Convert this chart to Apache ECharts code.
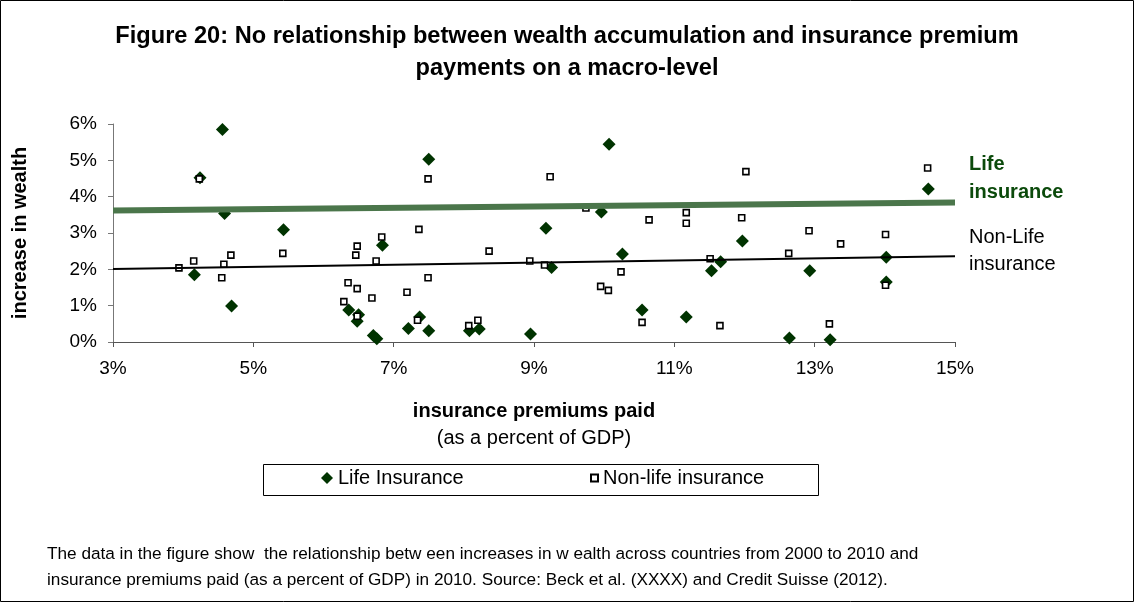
<!DOCTYPE html>
<html>
<head>
<meta charset="utf-8">
<script src="https://cdn.jsdelivr.net/npm/echarts@6.0.0/dist/echarts.min.js"></script>
<style>
  html, body { margin: 0; padding: 0; background: #fff; }
  #chart { width: 1134px; height: 602px; }
</style>
</head>
<body>
<div id="chart"></div>
<script>
// premiums paid (% of GDP) and increase in wealth (%)
const lifePremium = [4.56, 4.24, 4.59, 5.43, 6.84, 4.16, 4.69, 6.36, 6.50, 6.48, 6.71, 6.76,
  7.21, 7.50, 10.07, 9.96, 9.17, 10.26, 9.25, 7.37, 7.50, 8.08, 8.22, 8.95, 10.54, 11.17,
  14.62, 11.97, 11.66, 11.53, 12.93, 14.02, 14.02, 12.64, 13.22]
const lifeWealth = [5.85, 4.52, 3.54, 3.09, 2.66, 1.85, 0.99, 0.88, 0.75, 0.57, 0.18, 0.09,
  0.37, 5.03, 5.44, 3.58, 3.13, 2.42, 2.05, 0.69, 0.31, 0.31, 0.36, 0.22, 0.88, 0.69,
  4.21, 2.78, 2.21, 1.96, 1.96, 2.33, 1.65, 0.11, 0.06]

const nonLifePremium = [4.23, 3.94, 4.15, 4.58, 4.68, 4.55, 5.42, 6.48, 6.46, 6.83, 6.75, 6.35,
  6.48, 6.29, 6.48, 6.69, 7.19, 7.36, 7.34, 7.49, 9.23, 9.74, 10.64, 11.17, 11.17, 8.36,
  8.94, 9.15, 10.24, 7.49, 9.95, 10.06, 8.07, 8.20, 10.54, 14.61, 12.02, 11.96, 12.92,
  13.37, 14.01, 12.63, 11.51, 14.01, 11.65, 13.21]
const nonLifeWealth = [4.49, 2.04, 2.23, 2.14, 2.39, 1.77, 2.44, 2.64, 2.39, 2.89, 2.23, 1.63,
  1.47, 1.11, 0.71, 1.21, 1.37, 3.10, 0.60, 4.49, 4.55, 3.69, 3.36, 3.56, 3.27, 2.50,
  2.23, 2.12, 1.93, 1.77, 1.53, 1.42, 0.45, 0.60, 0.54, 4.79, 4.69, 3.42, 3.06,
  2.70, 2.96, 2.44, 2.29, 1.56, 0.45, 0.50]

// trend lines: [start, end] over the x range
const trendX = [3, 15]
const lifeTrend = [3.62, 3.84]
const nonLifeTrend = [2.01, 2.36]

const FONT = "'Liberation Sans', Arial, sans-serif"
const pairs = (xs, ys) => xs.map((x, i) => [x, ys[i]])

const chart = echarts.init(document.getElementById('chart'))

const option = {
  backgroundColor: '#fff',
  animation: false,
  textStyle: { fontFamily: FONT, color: '#000' },
  title: {
    text: 'Figure 20: No relationship between wealth accumulation and insurance premium\npayments on a macro-level',
    left: 'center',
    top: 15,
    textStyle: { fontFamily: FONT, fontSize: 23.6, fontWeight: 'bold', lineHeight: 32, color: '#000' }
  },
  grid: { left: 113, right: 179, top: 124, bottom: 260, containLabel: false, outerBoundsMode: 'none' },
  xAxis: {
    type: 'value',
    min: 3,
    max: 15,
    interval: 2,
    splitLine: { show: false },
    axisLine: { lineStyle: { color: '#555', width: 1 } },
    axisTick: { show: true, length: 5, lineStyle: { color: '#555' } },
    axisLabel: { formatter: '{value}%', fontSize: 19, color: '#000', margin: 17, fontFamily: FONT },
    name: '{b|insurance premiums paid}\n{n|(as a percent of GDP)}',
    nameLocation: 'middle',
    nameGap: 56,
    nameTextStyle: {
      rich: {
        b: { fontFamily: FONT, fontSize: 20, fontWeight: 'bold', lineHeight: 27, color: '#000' },
        n: { fontFamily: FONT, fontSize: 20, lineHeight: 27, color: '#000' }
      }
    }
  },
  yAxis: {
    type: 'value',
    min: 0,
    max: 6,
    interval: 1,
    splitLine: { show: false },
    axisLine: { show: true, lineStyle: { color: '#777', width: 1 } },
    axisTick: { show: true, length: 5, lineStyle: { color: '#777' } },
    axisLabel: { formatter: '{value}%', fontSize: 19, color: '#000', margin: 16, fontFamily: FONT },
    name: 'increase in wealth',
    nameLocation: 'middle',
    nameGap: 83,
    nameTextStyle: { fontFamily: FONT, fontSize: 20, fontWeight: 'bold', color: '#000' }
  },
  legend: [
    {
      data: ['Life Insurance'],
      left: 321,
      top: 468,
      padding: 0,
      itemWidth: 12,
      itemHeight: 12,
      selectedMode: false,
      textStyle: { fontFamily: FONT, fontSize: 20, color: '#000' }
    },
    {
      data: ['Non-life insurance'],
      left: 590,
      top: 468,
      padding: 0,
      itemWidth: 7,
      itemHeight: 7,
      selectedMode: false,
      textStyle: { fontFamily: FONT, fontSize: 20, color: '#000' }
    }
  ],
  graphic: [
    // outer frame
    { type: 'rect', shape: { x: 0.5, y: 0.5, width: 1133, height: 601 },
      style: { fill: 'none', stroke: '#000', lineWidth: 1 }, silent: true },
    // legend box
    { type: 'rect', shape: { x: 263.5, y: 464.5, width: 555, height: 31 },
      style: { fill: 'none', stroke: '#000', lineWidth: 1 }, silent: true, z: -1 },
    { type: 'text', x: 969, y: 150,
      style: { text: 'Life\ninsurance', font: 'bold 20px ' + FONT, fill: '#0b4a0b', lineHeight: 28 } },
    { type: 'text', x: 969, y: 224,
      style: { text: 'Non-Life\ninsurance', font: '20px ' + FONT, fill: '#000', lineHeight: 27 } },
    { type: 'text', x: 47, y: 541,
      style: {
        text: 'The data in the figure show  the relationship betw een increases in w ealth across countries from 2000 to 2010 and\ninsurance premiums paid (as a percent of GDP) in 2010. Source: Beck et al. (XXXX) and Credit Suisse (2012).',
        font: '17.2px ' + FONT, fill: '#000', lineHeight: 26
      } }
  ],
  series: [
    {
      name: 'Life Insurance',
      type: 'scatter',
      symbol: 'diamond',
      symbolSize: 13,
      itemStyle: { color: '#003300', opacity: 1 },
      data: pairs(lifePremium, lifeWealth),
      z: 2
    },
    {
      name: 'Non-life insurance',
      type: 'scatter',
      symbol: 'rect',
      symbolSize: 6,
      itemStyle: { color: '#fff', borderColor: '#000', borderWidth: 1.6, opacity: 1 },
      data: pairs(nonLifePremium, nonLifeWealth),
      z: 3
    },
    {
      name: 'Life trend',
      type: 'line',
      showSymbol: false,
      silent: true,
      lineStyle: { color: '#4b764b', width: 6 },
      data: pairs(trendX, lifeTrend),
      z: 4
    },
    {
      name: 'Non-life trend',
      type: 'line',
      showSymbol: false,
      silent: true,
      lineStyle: { color: '#000', width: 2 },
      data: pairs(trendX, nonLifeTrend),
      z: 4
    }
  ]
}

chart.setOption(option)
</script>
</body>
</html>
